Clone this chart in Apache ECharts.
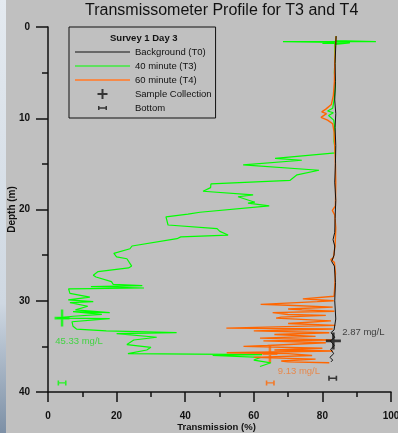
<!DOCTYPE html>
<html>
<head>
<meta charset="utf-8">
<script src="https://cdn.jsdelivr.net/npm/echarts@6/dist/echarts.min.js"></script>
<style>
    html, body { margin: 0; padding: 0; background: #c0c0c0; }
    #chart { width: 398px; height: 433px; }
</style>
</head>
<body>
<div id="chart"></div>
<script>
// Axis ticks
const transTicks = [0, 20, 40, 60, 80, 100];
const depthTicks = [0, 10, 20, 30, 40];

// Background (T0)
const t0Depth = [1.0, 2.0, 4.0, 6.0, 8.0, 9.5, 11.0, 13.0, 15.0, 17.0, 19.0, 21.0, 22.5, 23.3, 24.0, 25.0, 25.7, 26.2,
    28.0, 30.0, 32.0, 33.2, 33.5, 34.0, 34.4, 34.9, 35.3, 35.8, 36.2, 36.5, 36.7];
const t0Trans = [84.0, 83.9, 83.7, 83.8, 83.6, 83.9, 83.7, 83.9, 83.8, 83.6, 83.9, 83.7, 83.6, 83.1, 83.6, 83.4, 82.7, 83.5,
    83.8, 83.6, 83.9, 83.4, 82.5, 83.6, 82.3, 83.5, 82.4, 83.3, 82.2, 83.0, 82.5];

// 40 minute (T3)
const t3Depth = [1.0, 1.5, 1.6, 1.6, 1.7, 1.8, 1.75, 1.9, 3.0, 5.0, 6.5, 8.0, 8.9, 9.2, 9.4, 9.7, 10.2, 11.0, 12.5, 13.8,
    14.4, 14.6, 15.1, 15.7, 16.2, 16.8, 17.2, 17.6, 18.0, 18.4, 18.6, 19.2, 19.3, 19.6, 20.3, 20.5, 20.8, 21.7,
    22.1, 22.4, 22.8, 23.0, 23.2, 24.0, 24.3, 24.8, 25.2, 25.4, 26.2, 26.4, 26.8, 27.2, 27.4, 27.9, 28.2, 28.35,
    28.45, 28.6, 28.7, 29.2, 29.6, 29.9, 30.1, 30.2, 30.6, 31.0, 31.3, 31.2, 31.5, 31.7, 31.9, 31.95, 32.1, 32.3,
    32.8, 33.1, 33.3, 33.5, 33.6, 34.0, 34.3, 34.8, 35.1, 35.4, 35.8, 35.9, 36.0, 36.2, 36.5, 36.8, 37.2];
const t3Trans = [84.0, 83.8, 95.6, 68.5, 83.5, 80.0, 88.0, 83.6, 83.7, 83.5, 83.8, 83.4, 83.0, 81.5, 83.2, 81.8, 83.3, 83.6, 83.4, 83.8,
    66.2, 74.0, 56.9, 79.0, 72.6, 70.6, 47.5, 47.4, 45.2, 59.8, 55.4, 60.3, 58.3, 64.5, 44.3, 40.8, 34.4, 35.0,
    49.3, 50.1, 52.5, 38.7, 37.6, 24.5, 23.9, 19.2, 20.0, 23.0, 24.4, 23.5, 14.6, 13.2, 14.0, 18.5, 19.0, 27.5,
    12.5, 28.0, 6.0, 6.4, 12.2, 5.9, 13.2, 6.4, 11.6, 8.0, 18.0, 7.3, 15.7, 7.3, 2.5, 18.0, 17.5, 7.0,
    7.3, 8.3, 17.0, 37.5, 20.0, 31.7, 25.0, 23.0, 30.0, 28.8, 23.3, 62.4, 48.0, 62.0, 60.0, 65.0, 61.8];

// 60 minute (T4)
const t4Depth = [1.0, 2.0, 4.0, 6.0, 7.5, 8.5, 9.0, 9.3, 9.5, 9.9, 10.2, 10.6, 11.5, 13.0, 15.0, 17.0, 19.6, 20.1, 20.6,
    22.0, 24.0, 25.3, 25.5, 25.8, 27.0, 28.5, 29.5, 29.8, 30.0, 30.1, 30.4, 30.5, 30.7, 30.9, 31.0, 31.15, 31.3,
    31.5, 31.6, 31.8, 31.9, 32.2, 32.5, 32.7, 33.0, 33.1, 33.3, 33.5, 33.7, 33.9, 34.1, 34.3, 34.4, 34.6, 34.9,
    35.0, 35.2, 35.4, 35.5, 35.7, 35.8, 36.0, 36.2, 36.4, 36.6, 36.7, 36.8];
const t4Trans = [84.0, 83.8, 83.6, 83.5, 83.2, 82.6, 81.0, 79.8, 81.2, 79.6, 81.5, 83.0, 83.4, 83.6, 83.8, 83.9, 83.8, 82.9, 83.6,
    83.9, 83.7, 83.2, 82.4, 83.5, 83.8, 83.6, 83.4, 74.3, 83.3, 78.5, 62.0, 70.0, 83.0, 70.0, 74.0, 83.5, 65.5,
    70.0, 81.0, 68.0, 66.5, 82.5, 70.0, 83.8, 52.0, 83.0, 60.0, 82.0, 66.0, 78.0, 61.8, 82.5, 62.8, 81.0, 64.0,
    57.0, 80.0, 66.0, 83.0, 52.1, 70.0, 77.0, 60.0, 78.0, 68.0, 70.0, 82.0];

// Sample collection (T3, T4, T0) and bottom
const sampleTrans = [4.1, 64.7, 83.2];
const sampleDepth = [31.9, 35.8, 34.4];
const sampleConc = ["45.33 mg/L", "9.13 mg/L", "2.87 mg/L"];
const bottomTrans = [4.1, 64.8, 83.0];
const bottomDepth = [39.0, 39.0, 38.5];

const GREEN = "#00ff00";
const ORANGE = "#ff6600";
const BLACK = "#111111";
const markColors = [GREEN, ORANGE, BLACK];
const labelColors = ["#22d822", "#f07a30", "#1a1a1a"];
const labelOffsets = [[17, 23], [29, 18], [30, -9]];

const FONT = "'Liberation Sans', Arial, sans-serif";
const PLUS = "path://M6.25,0H8.75V6.25H15V8.75H8.75V15H6.25V8.75H0V6.25H6.25Z";
const PLUS_ICON = "path://M4,0H6V4H10V6H6V10H4V6H0V4H4Z";
const BAR = "path://M0,0H1.6V1.8H7.4V0H9V5H7.4V3.2H1.6V5H0Z";
const BAR_ICON = "path://M0,0M18,10M4.5,3H6V4.3H12V3H13.5V7H12V5.7H6V7H4.5Z";
// thin line icons for the legend (padded to full item box)
const LINE_ICON = "path://M0,0M55,10M0,4.4H55V5.6H0Z";
const THICK_LINE_ICON = "path://M0,0M55,10M0,4H55V6H0Z";

const zip = (xs, ys) => xs.map((x, i) => [x, ys[i]]);

const chart = echarts.init(document.getElementById("chart"), null, { renderer: "canvas" });

const option = {
    backgroundColor: "#c0c0c0",
    animation: false,
    textStyle: { fontFamily: FONT },
    title: [
        {
            text: "Transmissometer Profile for T3 and T4",
            left: 85,
            top: 3,
            padding: 0,
            textStyle: { fontSize: 16, fontWeight: "normal", color: "#111", fontFamily: FONT },
        },
        {
            text: "Survey 1 Day 3",
            left: 110,
            top: 33,
            padding: 0,
            textStyle: { fontSize: 9.5, fontWeight: "bold", color: "#111", fontFamily: FONT },
        },
    ],
    graphic: [
        {
            type: "rect",
            left: 0,
            top: 0,
            shape: { width: 6, height: 433 },
            style: {
                fill: new echarts.graphic.LinearGradient(0, 0, 0, 1, [
                    { offset: 0, color: "#e4eaf0" },
                    { offset: 0.7, color: "#cfd8e2" },
                    { offset: 1, color: "#7d90a6" },
                ]),
            },
            silent: true,
        },
    ],
    legend: {
        orient: "vertical",
        left: 69,
        top: 27,
        padding: [20, 4, 5, 6],
        borderColor: "#111",
        borderWidth: 1,
        itemWidth: 55,
        itemHeight: 10,
        itemGap: 4,
        textStyle: { fontSize: 9.5, color: "#111", lineHeight: 10, fontFamily: FONT },
        data: [
            { name: "Background (T0)", icon: LINE_ICON },
            { name: "40 minute (T3)", icon: LINE_ICON },
            { name: "60 minute (T4)", icon: THICK_LINE_ICON, itemStyle: { color: "#f58a4a" } },
            { name: "Sample Collection", icon: PLUS_ICON },
            { name: "Bottom", icon: BAR_ICON },
        ],
    },
    grid: { left: 48, right: 7, top: 27, bottom: 41, outerBoundsMode: "none" },
    xAxis: {
        type: "value",
        min: transTicks[0],
        max: transTicks[transTicks.length - 1],
        interval: transTicks[1] - transTicks[0],
        name: "Transmission (%)",
        nameLocation: "middle",
        nameGap: 30,
        nameMoveOverlap: false,
        nameTextStyle: { fontSize: 9.5, fontWeight: "bold", color: "#111", padding: [0, 6, 0, 0] },
        axisLine: { show: true, onZero: false, lineStyle: { color: "#111", width: 1.5 } },
        axisTick: { show: true, inside: false, length: 10, lineStyle: { color: "#111", width: 1.5 } },
        minorTick: { show: true, splitNumber: 2, length: 5, lineStyle: { color: "#111", width: 1.5 } },
        axisLabel: { margin: 19, fontSize: 10, fontWeight: "bold", color: "#111" },
        splitLine: { show: false },
    },
    yAxis: {
        type: "value",
        inverse: true,
        min: depthTicks[0],
        max: depthTicks[depthTicks.length - 1],
        interval: depthTicks[1] - depthTicks[0],
        name: "Depth (m)",
        nameLocation: "middle",
        nameGap: 31,
        nameMoveOverlap: false,
        nameTextStyle: { fontSize: 10, fontWeight: "bold", color: "#111" },
        axisLine: { show: true, onZero: false, lineStyle: { color: "#111", width: 1.5 } },
        axisTick: { show: true, inside: false, length: 12, lineStyle: { color: "#111", width: 1.5 } },
        minorTick: { show: true, splitNumber: 2, length: 6, lineStyle: { color: "#111", width: 1.5 } },
        axisLabel: { margin: 18, fontSize: 10, fontWeight: "bold", color: "#111" },
        splitLine: { show: false },
    },
    series: [
        {
            name: "40 minute (T3)",
            type: "line",
            z: 2,
            symbol: "none",
            data: zip(t3Trans, t3Depth),
            lineStyle: { color: GREEN, width: 1.2 },
            itemStyle: { color: GREEN },
        },
        {
            name: "60 minute (T4)",
            type: "line",
            z: 3,
            symbol: "none",
            data: zip(t4Trans, t4Depth),
            lineStyle: { color: ORANGE, width: 1.4 },
            itemStyle: { color: ORANGE },
        },
        {
            name: "Background (T0)",
            type: "line",
            z: 4,
            symbol: "none",
            data: zip(t0Trans, t0Depth),
            lineStyle: { color: BLACK, width: 1 },
            itemStyle: { color: BLACK },
        },
        {
            name: "Sample Collection",
            type: "scatter",
            z: 5,
            symbol: PLUS,
            symbolSize: [15, 17],
            itemStyle: { color: BLACK },
            data: sampleTrans.map((t, i) => ({
                value: [t, sampleDepth[i]],
                itemStyle: { color: markColors[i] },
                label: {
                    show: true,
                    position: "inside",
                    offset: labelOffsets[i],
                    formatter: sampleConc[i],
                    fontSize: 9.5,
                    color: labelColors[i],
                    fontFamily: FONT,
                },
            })),
        },
        {
            name: "Bottom",
            type: "scatter",
            z: 5,
            symbol: BAR,
            symbolSize: [9, 5],
            itemStyle: { color: BLACK },
            data: bottomTrans.map((t, i) => ({
                value: [t, bottomDepth[i]],
                itemStyle: { color: markColors[i] },
            })),
        },
    ],
};

chart.setOption(option);
</script>
</body>
</html>
